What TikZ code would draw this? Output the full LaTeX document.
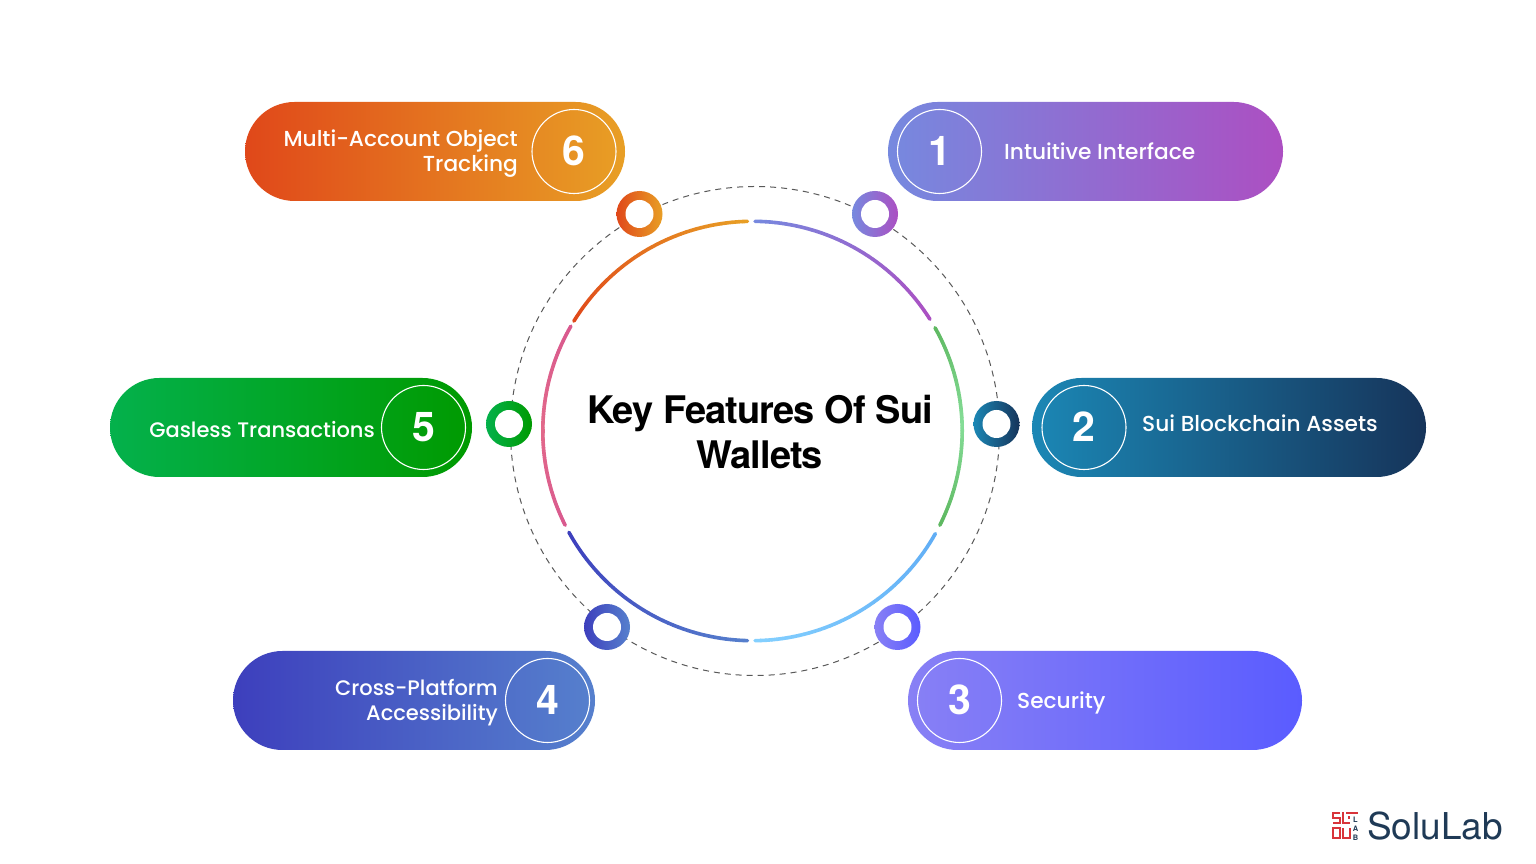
\documentclass[tikz,border=0pt]{standalone}
\usepackage{fontspec}
\setmainfont{Poppins Medium}
\newfontfamily\titlefont{TeX Gyre Heros}
\newfontfamily\headfont[LetterSpace=-2.4]{TeX Gyre Heros}
\usepackage{tikz}
\usetikzlibrary{positioning,
				shapes.misc,
				calc}

\definecolor{colAa}{HTML}{7689DF}
\definecolor{colAb}{HTML}{AC4FC2}
\definecolor{colBa}{HTML}{1B87B5}
\definecolor{colBb}{HTML}{16345A}
\definecolor{colCa}{HTML}{8880F5}
\definecolor{colCb}{HTML}{5A5CFF}
\definecolor{colDa}{HTML}{3D3FBD}
\definecolor{colDb}{HTML}{5680CD}
\definecolor{colEa}{HTML}{04B14C}
\definecolor{colEb}{HTML}{009A00}
\definecolor{colFa}{HTML}{E0481A}
\definecolor{colFb}{HTML}{E89F25}
\definecolor{arcGreenA}{HTML}{5DB860}
\definecolor{arcGreenB}{HTML}{86DD98}
\definecolor{arcBlueA}{HTML}{60ADF5}
\definecolor{arcBlueB}{HTML}{84D0FF}
\definecolor{arcPinkA}{HTML}{D9598E}
\definecolor{arcPinkB}{HTML}{E2698A}
\definecolor{logoRed}{HTML}{D8343A}
\definecolor{logoNavy}{HTML}{1F3A56}

\tikzset{
	pill/.style={rounded rectangle, minimum height=99pt, inner sep=0pt},
	badge/.style={circle, draw=white, line width=1.1pt, minimum size=84pt, inner sep=0pt,
		text=white, font=\titlefont\fontsize{41}{41}\selectfont\bfseries},
	pilltext/.style={text=white, font=\fontsize{21.7}{25}\selectfont, inner sep=0pt},
	pillsmall/.style={text=white, font=\fontsize{21}{25}\selectfont, inner sep=0pt},
	ringdot/.style={circle, minimum size=46pt, inner sep=0pt},
	ringhole/.style={circle, fill=white, minimum size=28pt, inner sep=0pt},
	logobar/.style={line width=2.3pt, draw=logoRed}
}

% one piece of the inner ring, coloured in small steps
\newcommand{\ringpart}[4]{%
	\foreach \i in {0,...,39}{
		\pgfmathsetmacro{\mixval}{100-100*(\i+.5)/40}
		\pgfmathsetmacro{\angA}{#1+(#2-#1)*\i/40}
		\pgfmathsetmacro{\angB}{#1+(#2-#1)*(\i+1)/40}
		\draw[line width=3.6pt, line cap=round, color=#3!\mixval!#4] (\angA:209.7) arc[start angle=\angA, end angle=\angB, radius=209.7];
	}
}

\begin{document}
\begin{tikzpicture}[x=1pt,y=1pt]
	\useasboundingbox (0,0) rectangle (1536,864);
	\fill[white] (0,0) rectangle (1536,864);

	% outer dashed circle
	\coordinate (outerc) at (755,433);
	\draw[dash pattern=on 6pt off 5pt, line width=1pt, color=black!65] (outerc) circle (244.5);

	% inner ring
	\begin{scope}[shift={(752.5,433)}]
		\ringpart{89.3}{32.2}{colAa}{colAb}
		\ringpart{29.5}{1.5}{arcGreenA}{arcGreenB}
		\ringpart{1.5}{-26.7}{arcGreenB}{arcGreenA}
		\ringpart{-29.3}{-89.3}{arcBlueA}{arcBlueB}
		\ringpart{-91.4}{-151.1}{colDb}{colDa}
		\ringpart{-153.3}{-181}{arcPinkA}{arcPinkB}
		\ringpart{-181}{-210}{arcPinkB}{arcPinkA}
		\ringpart{-211.6}{-268.6}{colFa}{colFb}
	\end{scope}

	% pills, badges and small rings
	\foreach \name/\num/\px/\py/\w/\bx/\dx/\dy in {
		A/1/1085.5/712.5/395/939.5/875/650,
		B/2/1229/436.5/394/1084/996.5/440,
		C/3/1105/163.5/394/959.5/897.5/237,
		D/4/414/163.5/362/547.5/607/237,
		E/5/291/436.5/362/423.5/509/440,
		F/6/435/712.5/380/574/639.5/650}
	{
		\node[pill, minimum width=\w pt, left color=col\name a, right color=col\name b] (pill\name) at (\px,\py) {};
		\node[badge] (badge\name) at (\bx,\py) {\raisebox{2pt}{\num}};
		\node[ringdot, left color=col\name a, right color=col\name b] (dot\name) at (\dx,\dy) {};
		\node[ringhole] (hole\name) at (dot\name) {};
	}

	\node[pilltext, anchor=west] (textA) at (1004,712.5) {Intuitive Interface};
	\node[pilltext, anchor=west] (textB) at (1142,440.5) {Sui Blockchain Assets};
	\node[pilltext, anchor=west] (textC) at (1017,161.5) {Security};
	\node[pillsmall, anchor=east, align=right] (textD) at (498,161.5) {Cross-Platform\\Accessibility};
	\node[pillsmall, anchor=east] (textE) at (375,434.5) {Gasless Transactions};
	\node[pilltext, anchor=east, align=right] (textF) at (518,710.5) {Multi-Account Object\\Tracking};

	\node[font=\headfont\fontsize{38}{45}\selectfont\bfseries, align=center, inner sep=0pt] (title) at (760,432) {Key Features Of Sui\\Wallets};

	% logo
	\draw[logobar] (1340,51) -- (1333,51) -- (1333,46) -- (1340,46) -- (1340,41) -- (1333,41);
	\draw[logobar] (1343,52) -- (1343,41) -- (1350,41);
	\draw[logobar] (1346,51) -- (1358,51) (1348,46.5) -- (1350,46.5);
	\draw[logobar] (1333,36) rectangle (1340,26);
	\draw[logobar] (1343,36) -- (1343,26) -- (1350,26) -- (1350,36);
	\node[font=\titlefont\fontsize{7.5}{8.8}\selectfont\bfseries, text=logoNavy, align=center, inner sep=0pt] (logolab) at (1355.5,35) {L\\A\\B};
	\node[font=\titlefont\fontsize{37}{37}\selectfont, text=logoNavy, anchor=west, inner sep=0pt] (logotext) at (1367,38) {SoluLab};
\end{tikzpicture}
\end{document}
